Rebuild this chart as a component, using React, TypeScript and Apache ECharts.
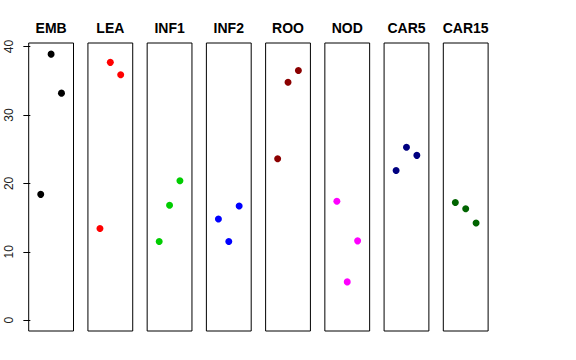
import React, { useEffect, useRef } from "react";
import * as echarts from "echarts";

const categories = ["EMB", "LEA", "INF1", "INF2", "ROO", "NOD", "CAR5", "CAR15"];
const xPositions = [1, 2, 3];
const embValues = [18.4, 38.9, 33.2];
const leaValues = [13.4, 37.7, 35.9];
const inf1Values = [11.5, 16.8, 20.4];
const inf2Values = [14.8, 11.5, 16.7];
const rooValues = [23.6, 34.8, 36.5];
const nodValues = [17.4, 5.6, 11.6];
const car5Values = [21.9, 25.3, 24.1];
const car15Values = [17.2, 16.3, 14.2];
const seriesValues = [embValues, leaValues, inf1Values, inf2Values, rooValues, nodValues, car5Values, car15Values];
const colors = ["#000000", "#FF0000", "#00CD00", "#0000FF", "#8B0000", "#FF00FF", "#000080", "#006400"];
const yTicks = [0, 10, 20, 30, 40];

export default function App() {
  const ref = useRef<HTMLDivElement>(null);
  useEffect(() => {
    if (!ref.current) return;
    const chart = echarts.init(ref.current, null, { renderer: "svg" });
    const panelLeft0 = 28.7;
    const panelStep = 59.23;
    const panelWidth = 44.8;
    const top = 43;
    const height = 288;
    const grids: any[] = [];
    const xAxes: any[] = [];
    const yAxes: any[] = [];
    const series: any[] = [];
    const titles: any[] = [];
    categories.forEach((cat, i) => {
      const left = panelLeft0 + i * panelStep;
      grids.push({
        left,
        top,
        width: panelWidth,
        height,
        show: true,
        borderColor: "#000",
        borderWidth: 1,
        backgroundColor: "transparent",
        containLabel: false,
      });
      xAxes.push({
        type: "value",
        gridIndex: i,
        min: -0.16,
        max: 4.16,
        show: false,
      });
      yAxes.push({
        type: "value",
        gridIndex: i,
        min: -1.58,
        max: 40.53,
        show: i === 0,
        splitLine: { show: false },
        axisLine: { show: false },
        axisTick: {
          show: i === 0,
          length: 7,
          customValues: yTicks,
          lineStyle: { color: "#000", width: 1 },
        },
        axisLabel: {
          show: i === 0,
          customValues: yTicks,
          rotate: 90,
          margin: 14,
          fontSize: 12,
          color: "#222",
          fontFamily: "Liberation Sans, Arial, sans-serif",
        },
      });
      series.push({
        type: "scatter",
        xAxisIndex: i,
        yAxisIndex: i,
        symbolSize: 7,
        itemStyle: { color: colors[i], opacity: 1 },
        data: seriesValues[i].map((v, j) => [xPositions[j], v]),
      });
      titles.push({
        text: cat,
        left: left + panelWidth / 2,
        top: 21,
        textAlign: "center",
        padding: 0,
        textStyle: {
          fontSize: 14,
          fontWeight: "bold",
          color: "#000",
          fontFamily: "Liberation Sans, Arial, sans-serif",
        },
      });
    });
    chart.setOption({
      animation: false,
      backgroundColor: "#fff",
      title: titles,
      grid: grids,
      xAxis: xAxes,
      yAxis: yAxes,
      series,
    });
    return () => chart.dispose();
  }, []);
  return (
    <div
      ref={ref}
      style={{ position: "fixed", left: 0, top: 0, width: 576, height: 360 }}
    />
  );
}
